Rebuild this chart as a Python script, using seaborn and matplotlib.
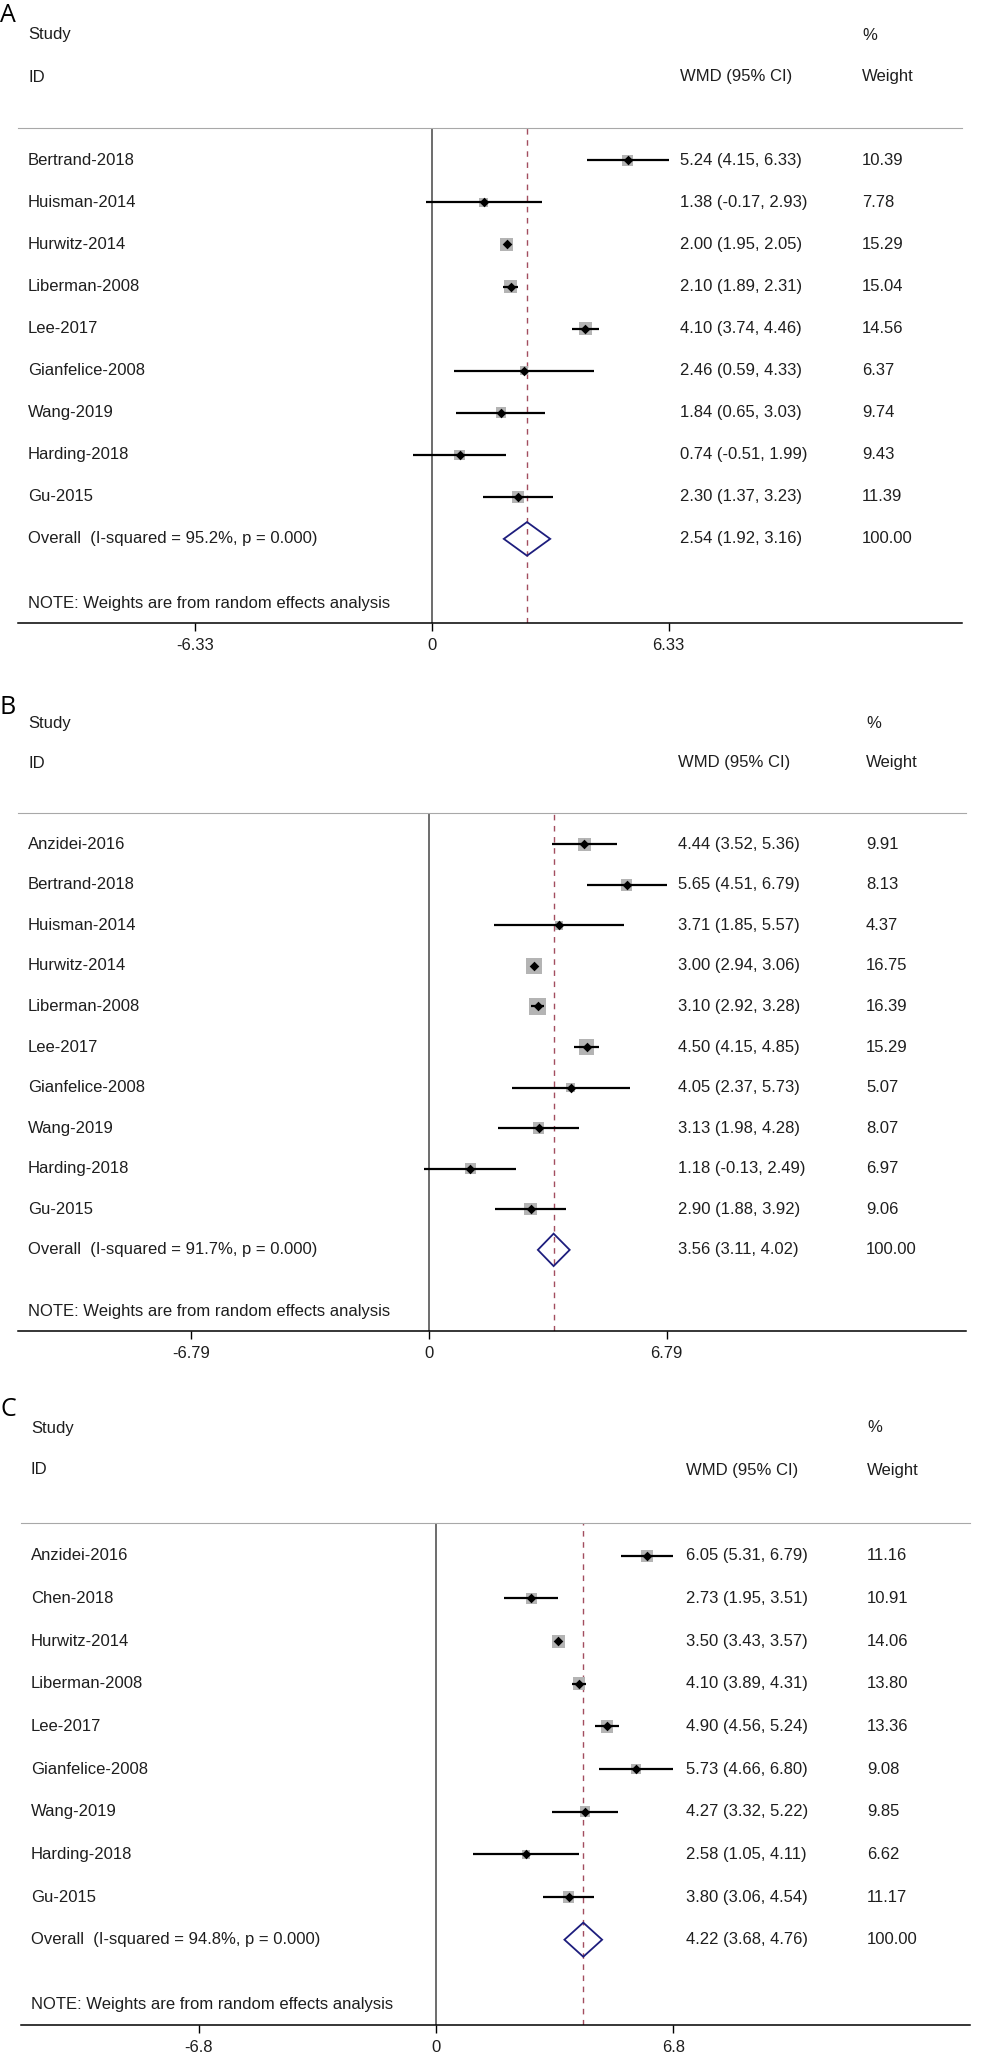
import matplotlib
matplotlib.use('Agg')
import numpy as np
import pandas as pd
import seaborn as sns
import matplotlib.pyplot as plt
import matplotlib.transforms as mtransforms
from matplotlib.patches import Polygon

# ---- panel A ----
studies_a = ['Bertrand-2018', 'Huisman-2014', 'Hurwitz-2014', 'Liberman-2008', 'Lee-2017',
             'Gianfelice-2008', 'Wang-2019', 'Harding-2018', 'Gu-2015']
est_a = [5.24, 1.38, 2.00, 2.10, 4.10, 2.46, 1.84, 0.74, 2.30]
lo_a = [4.15, -0.17, 1.95, 1.89, 3.74, 0.59, 0.65, -0.51, 1.37]
hi_a = [6.33, 2.93, 2.05, 2.31, 4.46, 4.33, 3.03, 1.99, 3.23]
wt_a = [10.39, 7.78, 15.29, 15.04, 14.56, 6.37, 9.74, 9.43, 11.39]
overall_a = [2.54, 1.92, 3.16]
isq_a = 95.2
ticks_a = [-6.33, 0, 6.33]
ticklabels_a = ['-6.33', '0', '6.33']

# ---- panel B ----
studies_b = ['Anzidei-2016', 'Bertrand-2018', 'Huisman-2014', 'Hurwitz-2014', 'Liberman-2008',
             'Lee-2017', 'Gianfelice-2008', 'Wang-2019', 'Harding-2018', 'Gu-2015']
est_b = [4.44, 5.65, 3.71, 3.00, 3.10, 4.50, 4.05, 3.13, 1.18, 2.90]
lo_b = [3.52, 4.51, 1.85, 2.94, 2.92, 4.15, 2.37, 1.98, -0.13, 1.88]
hi_b = [5.36, 6.79, 5.57, 3.06, 3.28, 4.85, 5.73, 4.28, 2.49, 3.92]
wt_b = [9.91, 8.13, 4.37, 16.75, 16.39, 15.29, 5.07, 8.07, 6.97, 9.06]
overall_b = [3.56, 3.11, 4.02]
isq_b = 91.7
ticks_b = [-6.79, 0, 6.79]
ticklabels_b = ['-6.79', '0', '6.79']

# ---- panel C ----
studies_c = ['Anzidei-2016', 'Chen-2018', 'Hurwitz-2014', 'Liberman-2008', 'Lee-2017',
             'Gianfelice-2008', 'Wang-2019', 'Harding-2018', 'Gu-2015']
est_c = [6.05, 2.73, 3.50, 4.10, 4.90, 5.73, 4.27, 2.58, 3.80]
lo_c = [5.31, 1.95, 3.43, 3.89, 4.56, 4.66, 3.32, 1.05, 3.06]
hi_c = [6.79, 3.51, 3.57, 4.31, 5.24, 6.80, 5.22, 4.11, 4.54]
wt_c = [11.16, 10.91, 14.06, 13.80, 13.36, 9.08, 9.85, 6.62, 11.17]
overall_c = [4.22, 3.68, 4.76]
isq_c = 94.8
ticks_c = [-6.8, 0, 6.8]
ticklabels_c = ['-6.8', '0', '6.8']

sns.set_theme(style='white')
plt.rcParams['font.family'] = ['Liberation Sans', 'DejaVu Sans']

W, H = 981, 2056
fig = plt.figure(figsize=(W / 100, H / 100), dpi=100)

TXT = '#1e1e1e'
FS = 12

panels = [
    dict(letter='A', studies=studies_a, est=est_a, lo=lo_a, hi=hi_a, wt=wt_a,
         overall=overall_a, isq=isq_a, ticks=ticks_a, ticklabels=ticklabels_a,
         box=(18, 962, 128, 623, 432, 37.4), cols=(28, 680, 862),
         heads=(15, 35, 77), k=3.4),
    dict(letter='B', studies=studies_b, est=est_b, lo=lo_b, hi=hi_b, wt=wt_b,
         overall=overall_b, isq=isq_b, ticks=ticks_b, ticklabels=ticklabels_b,
         box=(18, 966, 813, 1331, 429, 35.0), cols=(28, 678, 866),
         heads=(708, 723, 763), k=4.0),
    dict(letter='C', studies=studies_c, est=est_c, lo=lo_c, hi=hi_c, wt=wt_c,
         overall=overall_c, isq=isq_c, ticks=ticks_c, ticklabels=ticklabels_c,
         box=(21, 970, 1523, 2025, 436, 34.9), cols=(31, 686, 867),
         heads=(1410, 1428, 1470), k=3.4),
]


def draw_panel(p):
    L, R, T, B, Z, S = p['box']
    ax = fig.add_axes([L / W, 1 - B / H, (R - L) / W, (B - T) / H])

    df = pd.DataFrame({'study': p['studies'], 'est': p['est'], 'lo': p['lo'],
                       'hi': p['hi'], 'wt': p['wt']})
    n = len(df)
    df['row'] = np.arange(n)
    y_ov = n
    y_note = n + 1.53

    ax.set_xlim((L - Z) / S, (R - Z) / S)
    ax.set_ylim(n + 2.0, -0.77)

    ax.axvline(0, color='#454545', lw=1.1, zorder=1)
    ax.axvline(p['overall'][0], color='#a34d5f', lw=1.0, ls=(0, (4, 4)), zorder=1)

    # weight squares, CI lines, point estimates
    sizes = (0.72 * p['k'] * np.sqrt(df['wt'])) ** 2
    ax.scatter(df['est'], df['row'], s=sizes, marker='s', color='#b4b4b4', lw=0, zorder=2)
    ax.hlines(df['row'], df['lo'], df['hi'], color='black', lw=1.6, zorder=3)
    sns.scatterplot(data=df, x='est', y='row', marker='D', color='black', s=24,
                    linewidth=0, ax=ax, zorder=4, legend=False)

    est, lo, hi = p['overall']
    ax.add_patch(Polygon([(lo, y_ov), (est, y_ov - 0.4), (hi, y_ov), (est, y_ov + 0.4)],
                         closed=True, fill=False, edgecolor='#1d1d7d', lw=1.3, zorder=4))

    # text columns
    tr = mtransforms.blended_transform_factory(fig.transFigure, ax.transData)
    c0, c1, c2 = [c / W for c in p['cols']]
    for _, r in df.iterrows():
        ax.text(c0, r['row'], r['study'], transform=tr, va='center', ha='left', fontsize=FS, color=TXT)
        ax.text(c1, r['row'], f"{r['est']:.2f} ({r['lo']:.2f}, {r['hi']:.2f})",
                transform=tr, va='center', ha='left', fontsize=FS, color=TXT)
        ax.text(c2, r['row'], f"{r['wt']:.2f}", transform=tr, va='center', ha='left',
                fontsize=FS, color=TXT)
    ax.text(c0, y_ov, f"Overall  (I-squared = {p['isq']:.1f}%, p = 0.000)", transform=tr,
            va='center', ha='left', fontsize=FS, color=TXT)
    ax.text(c1, y_ov, f"{est:.2f} ({lo:.2f}, {hi:.2f})", transform=tr,
            va='center', ha='left', fontsize=FS, color=TXT)
    ax.text(c2, y_ov, '100.00', transform=tr, va='center', ha='left', fontsize=FS, color=TXT)
    ax.text(c0, y_note, 'NOTE: Weights are from random effects analysis', transform=tr,
            va='center', ha='left', fontsize=FS, color=TXT)

    # headers
    ly, sy, iy = p['heads']
    fig.text(0.0, 1 - ly / H, p['letter'], fontsize=18, family=['Open Sans', 'DejaVu Sans'],
             va='center', ha='left', color='black')
    fig.text(c0, 1 - sy / H, 'Study', fontsize=FS, va='center', ha='left', color=TXT)
    fig.text(c0, 1 - iy / H, 'ID', fontsize=FS, va='center', ha='left', color=TXT)
    fig.text(c1, 1 - iy / H, 'WMD (95% CI)', fontsize=FS, va='center', ha='left', color=TXT)
    fig.text(c2, 1 - sy / H, '%', fontsize=FS, va='center', ha='left', color=TXT)
    fig.text(c2, 1 - iy / H, 'Weight', fontsize=FS, va='center', ha='left', color=TXT)

    # axis styling
    ax.set_xticks(p['ticks'])
    ax.set_xticklabels(p['ticklabels'])
    ax.set_yticks([])
    ax.set_xlabel('')
    ax.set_ylabel('')
    ax.tick_params(axis='x', bottom=True, direction='out', length=6, width=1.0,
                   color='black', pad=5, labelsize=FS, labelcolor=TXT)
    ax.spines['left'].set_visible(False)
    ax.spines['right'].set_visible(False)
    ax.spines['top'].set_color('#a8a8a8')
    ax.spines['top'].set_linewidth(0.8)
    ax.spines['bottom'].set_color('black')
    ax.spines['bottom'].set_linewidth(1.1)
    ax.set_facecolor('white')


for p in panels:
    draw_panel(p)

fig.savefig('out.png', dpi=100, facecolor='white')
